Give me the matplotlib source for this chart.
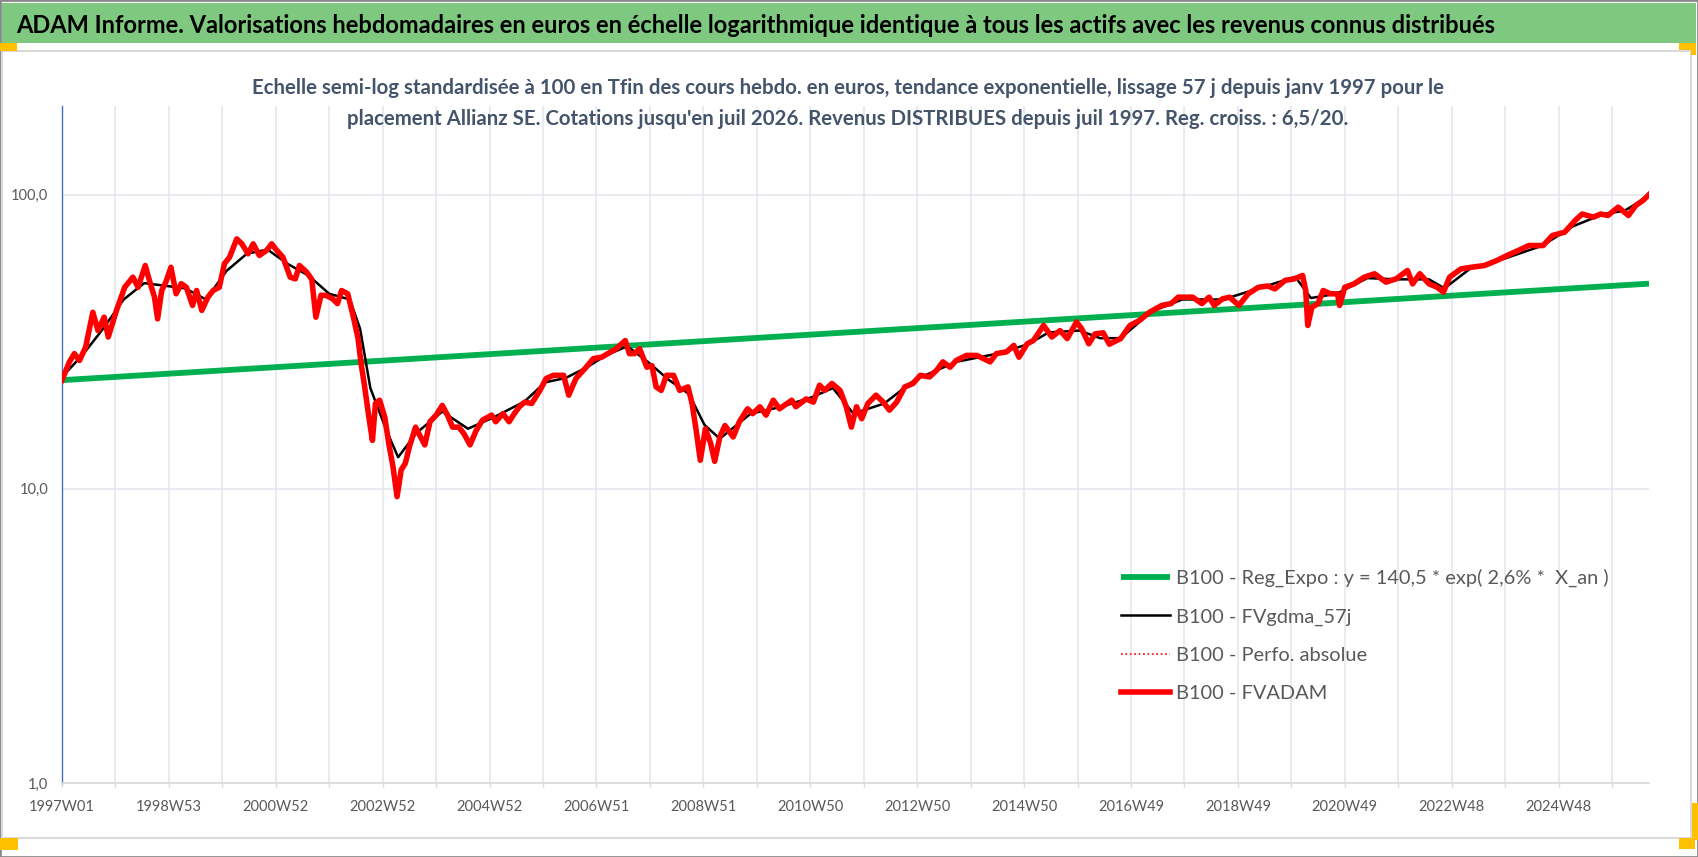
import matplotlib
matplotlib.use('Agg')
import matplotlib.pyplot as plt
from matplotlib import font_manager
from matplotlib.patches import Rectangle
from matplotlib.ticker import NullLocator

W, H = 1698, 857

# ---- data (week index from 1997W01, values base 100 at the end) ----
n_weeks = 1545
week_labels = ['1997W01', '1998W53', '2000W52', '2002W52', '2004W52', '2006W51',
               '2008W51', '2010W50', '2012W50', '2014W50', '2016W49', '2018W49',
               '2020W49', '2022W48', '2024W48']

red_idx = [0, 7, 12, 17, 23, 30, 35, 41, 45, 53, 61, 69, 74, 81, 85, 90, 93, 97, 101, 106,
           111, 116, 121, 127, 131, 136, 142, 147, 153, 158, 163, 170, 175, 181, 186, 192,
           199, 204, 209, 215, 222, 227, 231, 238, 243, 247, 252, 257, 263, 268, 272, 278,
           283, 288, 291, 294, 299, 302, 305, 309, 314, 318, 322, 326, 330, 334, 338, 344,
           348, 353, 358, 364, 370, 375, 380, 386, 391, 397, 403, 409, 418, 422, 429, 435,
           440, 445, 450, 457, 465, 471, 478, 488, 493, 500, 510, 517, 525, 531, 539, 548,
           552, 557, 562, 569, 574, 578, 583, 588, 595, 601, 609, 613, 617, 621, 626, 631,
           635, 640, 645, 653, 659, 667, 672, 679, 685, 692, 698, 710, 714, 724, 731, 737,
           742, 749, 757, 763, 768, 773, 778, 784, 792, 799, 805, 812, 820, 828, 835, 844,
           851, 857, 864, 870, 880, 890, 903, 909, 919, 926, 931, 939, 945, 955, 963, 971,
           978, 987, 992, 999, 1005, 1013, 1019, 1030, 1039, 1048, 1058, 1070, 1079, 1086,
           1100, 1109, 1116, 1121, 1129, 1136, 1145, 1154, 1164, 1173, 1180, 1190, 1199,
           1207, 1210, 1212, 1216, 1222, 1227, 1234, 1241, 1243, 1248, 1257, 1267, 1277,
           1288, 1298, 1309, 1314, 1321, 1330, 1338, 1344, 1350, 1361, 1371, 1384, 1396,
           1406, 1417, 1427, 1441, 1450, 1462, 1472, 1479, 1490, 1497, 1504, 1514, 1524,
           1531, 1538, 1544]
red_val = [23.4, 26.9, 28.8, 27.3, 30.3, 39.8, 34.5, 38.3, 32.8, 40.4, 48.4, 52.4, 48.4, 57.4,
           51.1, 44.8, 37.8, 47.2, 50.4, 56.6, 46.0, 49.8, 48.4, 42.0, 47.2, 40.4, 44.8, 47.2,
           48.4, 58.2, 61.2, 70.7, 68.0, 62.9, 68.0, 62.1, 64.6, 68.0, 64.6, 61.2, 52.4, 51.7,
           57.4, 54.5, 51.5, 38.3, 45.5, 45.4, 44.3, 42.6, 47.2, 46.0, 39.0, 32.5, 26.6, 22.8,
           17.1, 14.6, 19.5, 20.0, 17.5, 14.2, 11.9, 9.4, 11.6, 12.2, 13.9, 16.2, 15.2, 14.1,
           16.9, 17.8, 19.2, 17.8, 16.2, 16.2, 15.4, 14.1, 15.8, 17.1, 17.8, 16.9, 18.0, 16.9,
           18.0, 19.0, 19.7, 19.5, 21.6, 23.7, 24.3, 24.3, 20.8, 23.7, 25.9, 27.7, 28.0, 28.8,
           29.9, 31.9, 28.8, 28.8, 29.9, 25.9, 26.2, 22.2, 21.6, 24.3, 24.3, 21.6, 22.2, 19.5,
           15.8, 12.5, 16.0, 14.3, 12.4, 15.0, 16.4, 15.0, 16.9, 18.7, 18.0, 19.0, 17.8, 20.0,
           18.7, 20.0, 19.0, 20.2, 19.7, 22.5, 21.6, 22.8, 21.6, 19.0, 16.2, 19.0, 17.3, 19.5,
           20.8, 19.7, 18.5, 19.7, 22.2, 22.8, 24.3, 24.0, 25.3, 27.0, 25.9, 27.3, 28.4, 28.4,
           27.0, 28.8, 29.2, 30.7, 28.0, 31.1, 31.9, 35.9, 32.8, 34.5, 32.4, 36.9, 35.0, 31.1,
           33.6, 33.9, 31.0, 32.4, 35.9, 37.3, 39.8, 42.0, 42.6, 44.8, 44.8, 42.6, 44.8, 42.0,
           44.2, 44.8, 42.0, 46.0, 48.4, 48.9, 47.8, 51.1, 51.7, 53.1, 47.2, 35.9, 41.4, 42.6,
           47.2, 46.0, 46.0, 42.0, 48.4, 49.7, 52.4, 53.8, 50.4, 51.7, 55.2, 49.7, 53.8, 49.7,
           48.4, 46.6, 52.4, 55.9, 56.6, 57.4, 59.7, 62.1, 64.6, 67.1, 67.1, 72.6, 74.5, 81.6,
           85.9, 83.8, 85.9, 84.9, 90.6, 84.9, 91.8, 95.4, 100.0]

lis_idx = [0, 20, 40, 60, 80, 100, 120, 140, 160, 180, 200, 220, 240, 260, 280, 290, 300,
           315, 327, 345, 370, 395, 420, 450, 470, 490, 510, 530, 550, 570, 590, 610, 625,
           640, 670, 700, 730, 750, 770, 800, 830, 870, 910, 940, 960, 990, 1010, 1030,
           1060, 1090, 1130, 1160, 1200, 1215, 1240, 1270, 1300, 1330, 1345, 1370, 1400,
           1440, 1470, 1500, 1520, 1544]
lis_val = [24.0, 28.5, 35.0, 44.0, 50.0, 49.0, 48.0, 44.0, 55.0, 63.0, 65.0, 58.0, 53.0,
           46.0, 44.0, 35.0, 22.0, 16.0, 12.8, 15.5, 18.3, 16.0, 17.5, 19.8, 23.0, 23.8, 25.8,
           28.5, 30.5, 27.0, 23.5, 21.0, 16.5, 14.8, 18.0, 19.0, 20.5, 22.0, 18.0, 19.5, 23.5,
           27.0, 28.8, 31.0, 34.0, 34.5, 32.5, 32.5, 40.0, 44.0, 44.0, 47.5, 52.5, 44.5, 46.0,
           52.0, 51.5, 51.5, 48.0, 56.0, 60.0, 67.0, 78.0, 86.0, 88.0, 99.0]

reg_idx = [0, 1544]
reg_val = [23.4, 49.8]

legend_labels = ['B100 - Reg_Expo : y = 140,5 * exp( 2,6% *  X_an )',
                 'B100 - FVgdma_57j',
                 'B100 - Perfo. absolue',
                 'B100 - FVADAM']

title_txt = ("ADAM Informe. Valorisations hebdomadaires en euros en échelle logarithmique "
             "identique à tous les actifs avec les revenus connus distribués")
sub1 = ("Echelle semi-log standardisée à 100 en Tfin des cours hebdo. en euros, tendance "
        "exponentielle, lissage 57 j depuis janv 1997 pour le")
sub2 = ("placement Allianz SE. Cotations jusqu'en juil 2026. Revenus DISTRIBUES depuis "
        "juil 1997. Reg. croiss. : 6,5/20.")

# ---- fonts ----
names = {f.name for f in font_manager.fontManager.ttflist}
FONT = 'Lato' if 'Lato' in names else 'Liberation Sans'
plt.rcParams['font.family'] = [FONT, 'DejaVu Sans']

fig = plt.figure(figsize=(W / 100, H / 100), dpi=100)
renderer = fig.canvas.get_renderer()


def px(x, y):
    return x / W, 1 - y / H


def fit(txt, width, weight='normal'):
    # font size (pt) that makes txt about width pixels wide
    t = fig.text(0, 0, txt, fontsize=20, fontweight=weight)
    w = t.get_window_extent(renderer).width
    t.remove()
    return 20 * width / w


# ---- frame, title band, selection handles ----
fig.add_artist(Rectangle((0, 0), 1, 1, transform=fig.transFigure, fill=False,
                         edgecolor='#8a8a8a', lw=2))
fig.add_artist(Rectangle(px(2, 43), 1694 / W, 40 / H, transform=fig.transFigure,
                         facecolor='#7EC87F', edgecolor='none'))
fig.add_artist(Rectangle(px(2, 838), 1689 / W, 787 / H, transform=fig.transFigure,
                         fill=False, edgecolor='#DADADA', lw=1.5))
for (x0, y0, x1, y1) in [(0, 43, 17, 51), (1679, 43, 1696, 50), (1691, 43, 1696, 55),
                         (1692, 803, 1698, 840), (1679, 838, 1695, 849), (0, 838, 18, 850)]:
    fig.add_artist(Rectangle(px(x0, y1), (x1 - x0) / W, (y1 - y0) / H,
                             transform=fig.transFigure, facecolor='#FFC000', edgecolor='none'))

fig.text(*px(16, 33), title_txt, fontsize=fit(title_txt, 1481, 'bold'), fontweight='bold',
         color='black', ha='left', va='baseline')
fs_sub = fit(sub1, 1195, 'bold')
fig.text(*px(848, 94), sub1, fontsize=fs_sub, fontweight='bold', color='#44546A',
         ha='center', va='baseline', zorder=10)
fig.text(*px(848, 125), sub2, fontsize=fs_sub, fontweight='bold', color='#44546A',
         ha='center', va='baseline', zorder=10)

# ---- axes ----
ax = fig.add_axes([62 / W, 1 - 783 / H, 1587 / W, 677 / H])
ax.set_yscale('log')
ax.set_ylim(1, 200)
ax.set_xlim(0, n_weeks - 1)

grid_pos = list(range(0, n_weeks, 52))
ax.set_xticks(grid_pos)
ax.set_xticklabels([week_labels[i // 2] if i % 2 == 0 else '' for i in range(len(grid_pos))])
ax.set_yticks([1, 10, 100])
ax.set_yticklabels(['1,0', '10,0', '100,0'])
ax.yaxis.set_minor_locator(NullLocator())

fs_tick = fit('2024W48', 66)
ax.tick_params(axis='x', length=3, width=1, color='#D9D9D9', labelcolor='#595959',
               labelsize=fs_tick, pad=9)
ax.tick_params(axis='y', length=0, labelcolor='#595959', labelsize=fs_tick, pad=10)

for s in ['top', 'right']:
    ax.spines[s].set_visible(False)
ax.spines['left'].set_color('#4472C4')
ax.spines['left'].set_linewidth(1)
ax.spines['bottom'].set_color('#D9D9D9')
ax.spines['bottom'].set_linewidth(1.2)
ax.grid(True, which='major', color='#E1E5EC', lw=1.1)
ax.set_axisbelow(True)

l_reg, = ax.plot(reg_idx, reg_val, color='#00B050', lw=4.2, solid_capstyle='butt', zorder=2)
l_lis, = ax.plot(lis_idx, lis_val, color='black', lw=1.8, zorder=3)
l_abs, = ax.plot(red_idx, red_val, color='red', lw=1.2, ls=':', zorder=4)
l_adam, = ax.plot(red_idx, red_val, color='red', lw=4.0, solid_joinstyle='round', zorder=5)

fs_leg = fit(legend_labels[0], 433)
fs_px = fs_leg * 100 / 72
t = fig.text(0, 0, legend_labels[0], fontsize=fs_leg)
row_h = t.get_window_extent(renderer).height
t.remove()
leg = ax.legend([l_reg, l_lis, l_abs, l_adam], legend_labels, loc='upper left',
                bbox_to_anchor=px(1121, 578 - row_h / 2), bbox_transform=fig.transFigure,
                frameon=False, fontsize=fs_leg, labelcolor='#595959', borderpad=0,
                borderaxespad=0, handlelength=49 / fs_px, handletextpad=6 / fs_px,
                labelspacing=(39.5 - row_h) / fs_px)

fig.savefig('out.png', dpi=100, facecolor='white')
